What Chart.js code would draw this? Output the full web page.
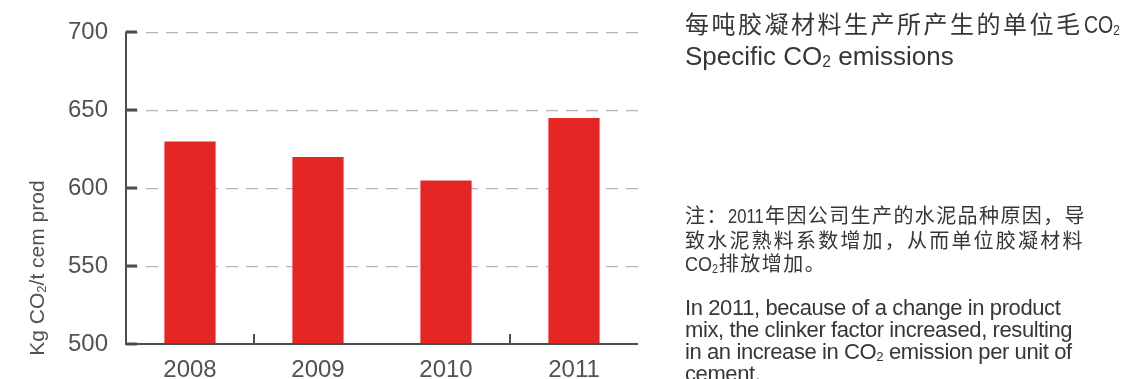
<!DOCTYPE html>
<html>
<head>
<meta charset="utf-8">
<script src="https://cdn.jsdelivr.net/npm/chart.js@4"></script>
<style>
  html, body { margin: 0; padding: 0; background: #fff; }
  #wrap { position: relative; width: 1123px; height: 379px; overflow: hidden; }
  canvas { position: absolute; left: 0; top: 0; }
  .txt { position: absolute; left: 685px; color: #363636; white-space: nowrap; }
  .cn { font-family: "Noto Sans CJK SC", sans-serif; }
  .en { font-family: "Liberation Sans", Arial, sans-serif; }
  .lat { display: inline-block; letter-spacing: 0; font-family: "Liberation Sans", Arial, sans-serif; transform-origin: 0 50%; }
  .title-cn { top: 6px; font-size: 24px; letter-spacing: 2.5px; line-height: 34px; }
  .title-cn .lat { font-size: 23px; margin-left: 1px; transform: scaleX(0.85); margin-right: -6px; }
  .title-en { top: 39px; font-size: 26px; line-height: 34px; }
  .note-cn { top: 203px; font-size: 20px; letter-spacing: 2.2px; line-height: 23px; }
  .note-cn .l1 { letter-spacing: 1.4px; }
  .note-cn .l1 .head { letter-spacing: 1.5px; }
  .note-cn .l1 .lat { font-size: 20px; transform: scaleX(0.83); margin-right: -6px; }
  .note-cn .l3 { letter-spacing: 1.5px; }
  .note-cn .l3 .lat { font-size: 20px; transform: scaleX(0.9); margin-right: -3px; }
  .note-en { top: 297px; font-size: 22px; letter-spacing: -0.4px; line-height: 22px; }
  sub { font-size: 60%; vertical-align: -0.15em; line-height: 0; }
</style>
</head>
<body>
<div id="wrap">
  <canvas id="chart" width="1123" height="379"></canvas>
  <div class="txt cn title-cn">每吨胶凝材料生产所产生的单位毛<span class="lat">CO<sub>2</sub></span></div>
  <div class="txt en title-en">Specific CO<sub>2</sub> emissions</div>
  <div class="txt cn note-cn"><span class="l1"><span class="head">注：</span><span class="lat">2011</span>年因公司生产的水泥品种原因，导</span><br>致水泥熟料系数增加，从而单位胶凝材料<br><span class="l3"><span class="lat">CO<sub>2</sub></span>排放增加。</span></div>
  <div class="txt en note-en">In 2011, because of a change in product<br>mix, the clinker factor increased, resulting<br>in an increase in CO<sub>2</sub> emission per unit of<br>cement.</div>
</div>
<script>
// Specific CO2 emissions, kg CO2 per tonne of cementitious product
const years = ['2008', '2009', '2010', '2011'];
const emissions = [630, 620, 605, 645];
const yTicks = [500, 550, 600, 650, 700];

const AXIS_COLOR = '#4d4d4d';
const TEXT_COLOR = '#525252';

// Solid axis lines, inward tick marks and the rotated axis title
const axisFrame = {
  id: 'axisFrame',
  afterDatasetsDraw(chart) {
    const { ctx, chartArea: a, scales: { x, y } } = chart;
    ctx.save();
    ctx.strokeStyle = AXIS_COLOR;
    ctx.lineWidth = 2;
    ctx.beginPath();
    ctx.moveTo(a.left, a.top - 1);
    ctx.lineTo(a.left, a.bottom);
    ctx.lineTo(a.right, a.bottom);
    ctx.stroke();

    ctx.lineWidth = 3;
    ctx.beginPath();
    yTicks.forEach(v => {
      const py = Math.round(y.getPixelForValue(v));
      ctx.moveTo(a.left, py);
      ctx.lineTo(a.left + 11, py);
    });
    ctx.stroke();

    // dividers between the first and second pair of years
    ctx.lineWidth = 2;
    ctx.beginPath();
    [[0, 1], [2, 3]].forEach(([i, j]) => {
      const px = Math.round((x.getPixelForValue(i) + x.getPixelForValue(j)) / 2);
      ctx.moveTo(px, a.bottom);
      ctx.lineTo(px, a.bottom - 10);
    });
    ctx.stroke();

    // y-axis title: Kg CO₂/t cem prod
    ctx.translate(38, 268);
    ctx.rotate(-Math.PI / 2);
    ctx.fillStyle = TEXT_COLOR;
    ctx.textBaseline = 'middle';
    const big = '21px "Liberation Sans", Arial, sans-serif';
    const small = '13px "Liberation Sans", Arial, sans-serif';
    const parts = [['Kg CO', big, 0], ['2', small, 4], ['/t cem prod', big, 0]];
    let total = 0;
    parts.forEach(([t, f]) => { ctx.font = f; total += ctx.measureText(t).width; });
    let cx = -total / 2;
    ctx.textAlign = 'left';
    parts.forEach(([t, f, dy]) => {
      ctx.font = f;
      ctx.fillText(t, cx, dy);
      cx += ctx.measureText(t).width;
    });
    ctx.restore();
  }
};

new Chart(document.getElementById('chart'), {
  type: 'bar',
  data: {
    labels: years,
    datasets: [{
      data: emissions,
      backgroundColor: '#e52624',
      borderWidth: 0,
      barPercentage: 0.4,
      categoryPercentage: 1.0
    }]
  },
  options: {
    responsive: false,
    animation: false,
    devicePixelRatio: 1,
    layout: { padding: { left: 0, right: 485, top: 32, bottom: 0 } },
    plugins: { legend: { display: false }, tooltip: { enabled: false } },
    scales: {
      x: {
        grid: { display: false, drawTicks: false },
        border: { display: false },
        ticks: {
          color: TEXT_COLOR,
          padding: 12,
          font: { family: '"Liberation Sans", Arial, sans-serif', size: 24 }
        },
        afterFit(scale) { scale.height = 35; }
      },
      y: {
        min: 500,
        max: 700,
        afterBuildTicks(scale) { scale.ticks = yTicks.map(v => ({ value: v })); },
        grid: { color: '#b4b4b4', lineWidth: 1.2, drawTicks: false },
        border: { display: false, dash: [12, 8] },
        ticks: {
          color: TEXT_COLOR,
          padding: 18,
          font: { family: '"Liberation Sans", Arial, sans-serif', size: 24 }
        },
        afterFit(scale) { scale.width = 126; }
      }
    }
  },
  plugins: [axisFrame]
});
</script>
</body>
</html>
